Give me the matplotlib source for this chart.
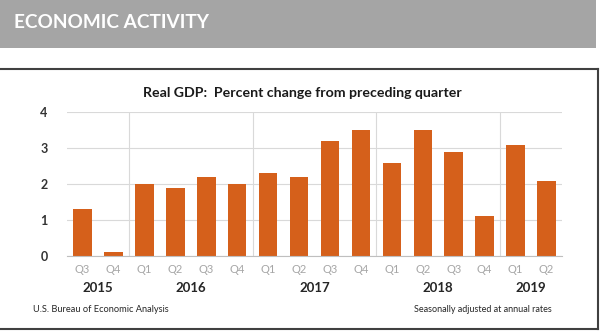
import matplotlib
matplotlib.use("Agg")
import matplotlib.pyplot as plt
from matplotlib.patches import Rectangle
from matplotlib.lines import Line2D

quarters = ["Q3", "Q4", "Q1", "Q2", "Q3", "Q4", "Q1", "Q2", "Q3", "Q4",
            "Q1", "Q2", "Q3", "Q4", "Q1", "Q2"]
years = ["2015", "2016", "2017", "2018", "2019"]
year_counts = [2, 4, 4, 4, 2]
gdp_change = [1.3, 0.1, 2.0, 1.9, 2.2, 2.0, 2.3, 2.2, 3.2, 3.5,
              2.6, 3.5, 2.9, 1.1, 3.1, 2.1]
yticks = [0, 1, 2, 3, 4]

W, H = 600, 331
plt.rcParams['font.family'] = ['Lato', 'DejaVu Sans']
fig = plt.figure(figsize=(W / 100, H / 100), dpi=100)

# header band
fig.patches.append(Rectangle((0, 1 - 48 / H), 596 / W, 48 / H, transform=fig.transFigure,
                             facecolor="#a5a5a5", edgecolor="none", zorder=0))
fig.text(14 / W, 1 - 23 / H, "ECONOMIC ACTIVITY", color="white", fontsize=13.7,
         fontweight="bold", ha="left", va="center")

# box border
bc = "#404040"
fig.add_artist(Line2D([0, 598 / W], [1 - 69 / H, 1 - 69 / H], transform=fig.transFigure, color=bc, lw=1.5))
fig.add_artist(Line2D([598 / W, 598 / W], [1 - 69 / H, 1 - 329 / H], transform=fig.transFigure, color=bc, lw=1.5))
fig.add_artist(Line2D([0, 598 / W], [1 - 329 / H, 1 - 329 / H], transform=fig.transFigure, color=bc, lw=1.5))

left, right = 67 / W, 562 / W
bottom, top = 1 - 256 / H, 1 - 112.3 / H
ax = fig.add_axes([left, bottom, right - left, top - bottom])
x = list(range(len(gdp_change)))
ax.bar(x, gdp_change, width=0.6, color="#D5601B", zorder=3)
ax.set_xlim(-0.5, len(gdp_change) - 0.5)
ax.set_ylim(0, 4)
ax.set_yticks(yticks)
ax.set_yticklabels([str(t) for t in yticks], fontsize=9, fontweight="bold", color="#333333")
ax.tick_params(axis="y", length=0, pad=14)
ax.grid(axis="y", color="#d9d9d9", lw=0.8, zorder=0)
for s in ["top", "right", "left"]:
    ax.spines[s].set_visible(False)
ax.spines["bottom"].set_color("#bfbfbf")
ax.spines["bottom"].set_zorder(4)

# year separators
pos = 0
for c in year_counts[:-1]:
    pos += c
    ax.axvline(pos - 0.5, color="#d9d9d9", lw=0.8, zorder=1)

ax.set_xticks(x)
ax.set_xticklabels(quarters, fontsize=8, color="#a6a6a6")
ax.tick_params(axis="x", length=0, pad=6)

pos = 0
for y, c in zip(years, year_counts):
    center = pos + (c - 1) / 2
    ax.text(center, -0.9, y, transform=ax.transData, ha="center", va="center",
            fontsize=9.5, fontweight="bold", color="#262626", clip_on=False)
    pos += c

fig.text(302 / W, 1 - 93 / H, "Real GDP:  Percent change from preceding quarter",
         ha="center", va="center", fontsize=10.2, fontweight="bold", color="#1a1a1a")
fig.text(33 / W, 1 - 310 / H, "U.S. Bureau of Economic Analysis", ha="left", va="center",
         fontsize=6.7, color="#262626")
fig.text(552 / W, 1 - 310 / H, "Seasonally adjusted at annual rates", ha="right", va="center",
         fontsize=6.5, color="#262626")

fig.savefig("out.png", dpi=100)
